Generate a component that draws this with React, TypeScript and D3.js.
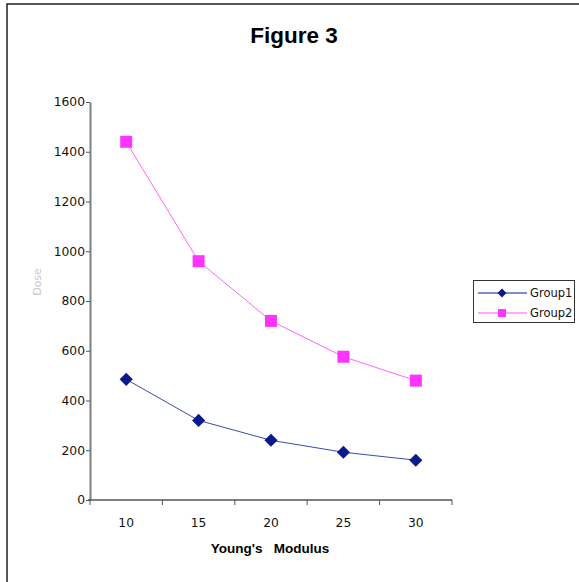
// App.tsx
import React, { useEffect, useRef } from 'react'
import * as d3 from 'd3'

const categories = ['10', '15', '20', '25', '30']
const group1 = [485, 320, 240, 192, 160]
const group2 = [1440, 960, 720, 576, 480]
const yTicks = [0, 200, 400, 600, 800, 1000, 1200, 1400, 1600]
const seriesNames = ['Group1', 'Group2']

function drawChart(el: SVGSVGElement) {
  var svg = d3.select(el)
  svg.selectAll('*').remove()

  // outer frame (runs off the right and bottom of the picture)
  svg.append('rect')
    .attr('x', 7).attr('y', 4)
    .attr('width', 620).attr('height', 640)
    .attr('fill', 'white')
    .attr('stroke', '#222').attr('stroke-width', 1.5)

  var x = d3.scaleBand().domain(categories).range([90, 452]).padding(0)
  var y = d3.scaleLinear().domain([0, 1600]).range([500, 102])

  svg.append('text')
    .attr('x', 294).attr('y', 43)
    .attr('text-anchor', 'middle')
    .attr('font-family', 'Liberation Sans, Arial, sans-serif')
    .attr('font-weight', 'bold')
    .attr('font-size', 22.5)
    .text('Figure 3')

  // y axis
  var yAxis = svg.append('g')
    .attr('transform', 'translate(90,0)')
    .call(d3.axisLeft(y).tickValues(yTicks).tickFormat(d3.format('d'))
      .tickSize(4).tickSizeOuter(0).tickPadding(1))
  yAxis.select('.domain').attr('stroke', '#808080').attr('stroke-width', 2)
  yAxis.selectAll('.tick line').attr('stroke', '#555')
  yAxis.selectAll('.tick text')
    .attr('font-family', 'DejaVu Sans, Verdana, sans-serif')
    .attr('font-size', 12.3).attr('fill', '#111')

  // x axis with ticks at band edges
  var xAxisG = svg.append('g').attr('transform', 'translate(0,500)')
  xAxisG.append('line')
    .attr('x1', 88).attr('x2', 452)
    .attr('stroke', '#555').attr('stroke-width', 1.3)
  var edges = categories.map(function (c) { return x(c) as number }).concat([x.range()[1]])
  xAxisG.selectAll('.xt').data(edges).enter()
    .append('line')
    .attr('x1', function (d) { return d }).attr('x2', function (d) { return d })
    .attr('y1', 0).attr('y2', 5)
    .attr('stroke', '#555')
  xAxisG.selectAll('.xl').data(categories).enter()
    .append('text')
    .attr('x', function (d) { return (x(d) as number) + x.bandwidth() / 2 })
    .attr('y', 27)
    .attr('text-anchor', 'middle')
    .attr('font-family', 'DejaVu Sans, Verdana, sans-serif')
    .attr('font-size', 12.3).attr('fill', '#111')
    .text(function (d) { return d })

  svg.append('text')
    .attr('x', 270).attr('y', 553)
    .attr('text-anchor', 'middle')
    .attr('font-family', 'Liberation Sans, Arial, sans-serif')
    .attr('font-weight', 'bold')
    .attr('font-size', 13.5)
    .attr('xml:space', 'preserve')
    .style('white-space', 'pre')
    .text("Young's   Modulus")

  svg.append('text')
    .attr('transform', 'translate(41,282) rotate(-90)')
    .attr('text-anchor', 'middle')
    .attr('font-family', 'DejaVu Sans, sans-serif')
    .attr('font-size', 11)
    .attr('fill', '#c8c8c8')
    .text('Dose')

  var cx = function (d: number, i: number) { return (x(categories[i]) as number) + x.bandwidth() / 2 }
  var line = d3.line<number>().x(cx).y(function (d) { return y(d) })

  svg.append('path').datum(group2)
    .attr('d', line).attr('fill', 'none')
    .attr('stroke', '#ff66ff').attr('stroke-width', 1)
  svg.append('path').datum(group1)
    .attr('d', line).attr('fill', 'none')
    .attr('stroke', '#3a4bb0').attr('stroke-width', 1)

  svg.selectAll('.sq').data(group2).enter()
    .append('rect')
    .attr('x', function (d, i) { return cx(d, i) - 6 })
    .attr('y', function (d) { return y(d) - 6 })
    .attr('width', 12).attr('height', 12)
    .attr('fill', '#ff33ff')

  var diamond = d3.symbol().type(d3.symbolDiamond2).size(110)
  svg.selectAll('.dm').data(group1).enter()
    .append('path')
    .attr('d', diamond)
    .attr('transform', function (d, i) { return 'translate(' + cx(d, i) + ',' + y(d) + ')' })
    .attr('fill', '#0a1a8c')

  // legend
  var legend = svg.append('g')
  legend.append('rect')
    .attr('x', 473.5).attr('y', 280.5)
    .attr('width', 101).attr('height', 42)
    .attr('fill', 'white').attr('stroke', '#333').attr('stroke-width', 1)
  var colours = ['#0a1a8c', '#ff33ff']
  var lineColours = ['#0a1a8c', '#ff55ff']
  seriesNames.forEach(function (name, i) {
    var ly = 293 + i * 20
    legend.append('line')
      .attr('x1', 478).attr('x2', 527).attr('y1', ly).attr('y2', ly)
      .attr('stroke', lineColours[i]).attr('stroke-width', 1)
    if (i === 0) {
      legend.append('path')
        .attr('d', d3.symbol().type(d3.symbolDiamond2).size(50))
        .attr('transform', 'translate(502,' + ly + ')')
        .attr('fill', colours[i])
    } else {
      legend.append('rect')
        .attr('x', 498).attr('y', ly - 4).attr('width', 8).attr('height', 8)
        .attr('fill', colours[i])
    }
    legend.append('text')
      .attr('x', 530).attr('y', ly + 4)
      .attr('font-family', 'DejaVu Sans, Verdana, sans-serif')
      .attr('font-size', 11.5).attr('fill', '#111')
      .text(name)
  })
}

export default function App() {
  const ref = useRef<SVGSVGElement>(null)

  useEffect(() => {
    if (ref.current) drawChart(ref.current)
  }, [])

  return (
    <svg ref={ref} width={579} height={582}
      style={{ position: 'absolute', left: 0, top: 0, background: 'white' }} />
  )
}
